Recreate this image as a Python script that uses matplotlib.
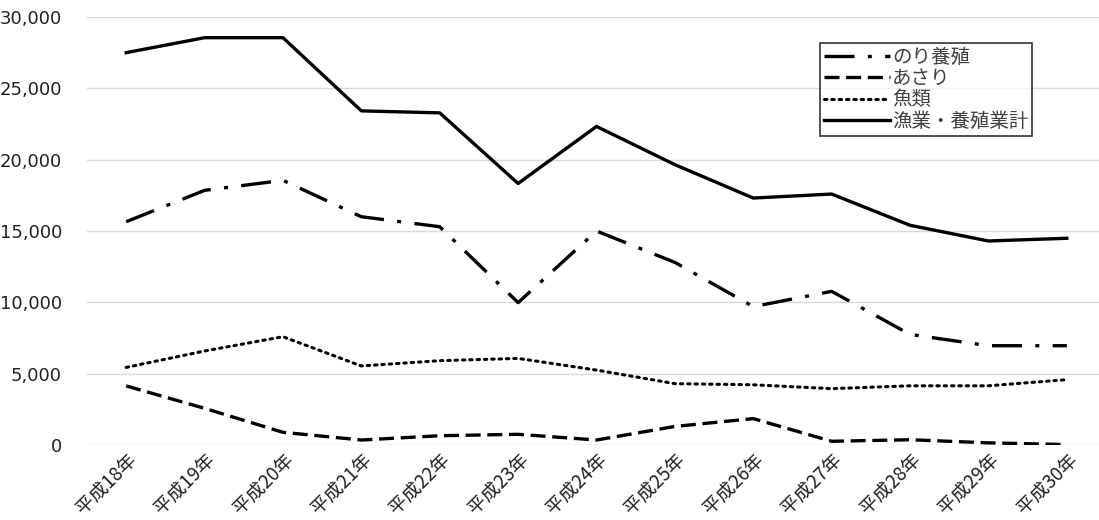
import matplotlib.pyplot as plt
from matplotlib.ticker import FuncFormatter

plt.rcParams['font.family'] = ['Noto Sans CJK JP', 'DejaVu Sans']

years = ['平成18年', '平成19年', '平成20年', '平成21年', '平成22年', '平成23年', '平成24年',
         '平成25年', '平成26年', '平成27年', '平成28年', '平成29年', '平成30年']

nori = [15650, 17850, 18550, 16000, 15300, 9980, 15000, 12800, 9700, 10770, 7750, 6960, 6960]
asari = [4140, 2570, 890, 350, 650, 750, 350, 1300, 1850, 260, 370, 150, 30]
fish = [5440, 6590, 7590, 5540, 5910, 6070, 5250, 4300, 4220, 3950, 4150, 4150, 4580]
total = [27500, 28550, 28550, 23420, 23280, 18330, 22330, 19650, 17310, 17590, 15400, 14300, 14490]

fig = plt.figure(figsize=(10.99, 5.20), dpi=100)
ax = fig.add_axes([87 / 1099, 1 - 445 / 520, (1106 - 87) / 1099, (445 - 17) / 520])

x = range(len(years))
ax.plot(x, nori, color='black', lw=2.4, dashes=(9, 4, 1.2, 4), label='のり養殖')
ax.plot(x, asari, color='black', lw=2.4, dashes=(4.5, 2), label='あさり')
ax.plot(x, fish, color='black', lw=2.2, dashes=(0.8, 1.6), dash_capstyle='round', label='魚類')
ax.plot(x, total, color='black', lw=2.4, label='漁業・養殖業計')

ax.set_xlim(-0.5, len(years) - 0.5)
ax.set_ylim(0, 30000)
ax.set_yticks(range(0, 30001, 5000))
ax.yaxis.set_major_formatter(FuncFormatter(lambda v, p: f'{int(v):,}'))
ax.set_xticks(list(x))
ax.set_xticklabels(years, rotation=45, ha='right', va='top', rotation_mode='anchor',
                   fontsize=13.5, color='#222222')
ax.tick_params(axis='x', length=0, pad=3)
ax.tick_params(axis='y', length=0, pad=18, labelsize=13, labelcolor='#222222')
for lab in ax.get_yticklabels():
    lab.set_family(['Verdana', 'DejaVu Sans'])

ax.grid(axis='y', color='#d9d9d9', lw=1)
ax.set_axisbelow(True)
for s in ax.spines.values():
    s.set_visible(False)

leg = ax.legend(loc='upper left', bbox_to_anchor=((820 - 87) / (1106 - 87), 1 - (43 - 17) / 428),
                borderaxespad=0, frameon=True, fancybox=False, edgecolor='black', fontsize=14,
                handlelength=3.4, handletextpad=0.1, labelspacing=0.02, borderpad=0.2)
leg.get_frame().set_linewidth(1.2)
for t in leg.get_texts():
    t.set_color('#404040')

fig.savefig('out.png', dpi=100)
